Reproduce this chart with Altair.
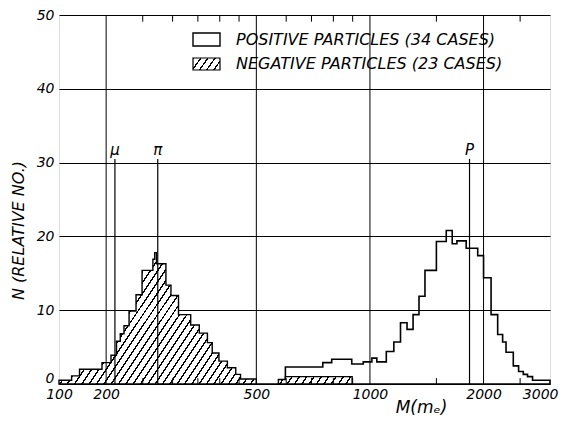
import altair as alt
import pandas as pd

# ---------------- data ----------------
# negative particles (hatched) : bin left edges in m_e, last value closes the last bin
neg_edges = [150, 162, 170, 195, 206, 213, 218, 223, 230, 240,
             249, 266, 269, 272, 288, 297, 311, 335, 353, 371,
             382, 398, 419, 441, 454, 500, 572, 597, 897]
neg_counts = [0.5, 1.1, 2.0, 2.9, 3.9, 5.8, 6.8, 7.9, 9.9, 12.1,
              15.4, 16.9, 17.8, 16.3, 13.4, 12.0, 9.4, 8.0, 6.9, 5.6,
              4.2, 3.1, 2.2, 1.3, 0.67, 0.0, 0.6, 1.0]

# positive particles (open outline)
pos_edges = [597, 750, 792, 895, 960, 1012, 1043, 1105, 1157, 1205,
             1254, 1301, 1349, 1399, 1500, 1593, 1652, 1700, 1799, 1930,
             2000, 2094, 2180, 2247, 2294, 2398, 2477, 2549, 2615, 2697, 3000]
pos_counts = [2.3, 2.9, 3.35, 2.7, 3.0, 3.5, 3.0, 4.4, 5.7, 8.3,
              7.4, 9.4, 11.9, 15.4, 19.3, 20.8, 19.0, 19.4, 18.4, 17.4,
              14.4, 9.4, 6.7, 5.7, 4.3, 2.45, 1.7, 1.3, 1.0, 0.5]

# reference masses
marker_names = ["\u03bc", "\u03c0", "P"]
marker_mass = [211, 274, 1836]

grid_x = [200, 500, 1000, 2000]
minor_x = [250, 300, 350, 400, 450, 600, 700, 800, 900, 1500, 2500]
x_ticks = [150, 200, 500, 1000, 2000, 3000]
y_ticks = [0, 10, 20, 30, 40, 50]

legend_labels = ["POSITIVE PARTICLES (34 CASES)", "NEGATIVE PARTICLES (23 CASES)"]

# ---------------- tables ----------------
neg_df = pd.DataFrame({"m": neg_edges, "n": neg_counts + [neg_counts[-1]]})
pos_df = pd.DataFrame({"m": pos_edges, "n": pos_counts + [pos_counts[-1]]})
mk_df = pd.DataFrame({"name": marker_names, "m": marker_mass})
grid_df = pd.DataFrame({"m": grid_x})
minor_df = pd.DataFrame({"m": minor_x})

FONT = "DejaVu Sans"


def hatch(n, ax, ay, frac=0.22):
    stops = []
    for i in range(n):
        a = i / n
        b = (i + frac) / n
        c = (i + 1) / n
        stops += [
            alt.GradientStop(offset=a, color="black"),
            alt.GradientStop(offset=b, color="black"),
            alt.GradientStop(offset=b, color="white"),
            alt.GradientStop(offset=c, color="white"),
        ]
    return alt.LinearGradient(gradient="linear", stops=stops, x1=0, y1=0, x2=ax, y2=ay)


xscale = alt.Scale(type="log", domain=[150, 3000], nice=False)
yscale = alt.Scale(domain=[0, 50], nice=False)

xaxis = alt.Axis(
    values=x_ticks, format="d",
    labelExpr="datum.value < 160 ? '100' : datum.label",
    grid=False, ticks=False, domain=False,
    labelFont=FONT, labelFontStyle="italic", labelFontSize=14, labelColor="black",
    labelPadding=3, labelFlush=False,
    labelAlign=alt.condition("datum.value >= 3000", alt.value("right"), alt.value("center")),
    labelOffset=alt.condition("datum.value >= 3000", alt.value(8), alt.value(0)),
    title="M(m\u2091)", titleFont=FONT, titleFontStyle="italic", titleFontWeight="normal",
    titleFontSize=17, titleColor="black", titleX=362, titleY=15, titleAlign="center",
    titleBaseline="top",
)
yaxis = alt.Axis(
    values=y_ticks, grid=True, gridColor="black", gridWidth=1, gridOpacity=1,
    ticks=False, domain=False,
    labelFont=FONT, labelFontStyle="italic", labelFontSize=14, labelColor="black",
    labelPadding=5,
    labelBaseline=alt.condition("datum.value == 0", alt.value("alphabetic"), alt.value("middle")),
    labelOffset=alt.condition("datum.value == 0", alt.value(-2), alt.value(0)),
    title="N (RELATIVE NO.)", titleFont=FONT, titleFontStyle="italic", titleFontWeight="normal",
    titleFontSize=16, titleColor="black", titleX=-41, titleY=215, titleAngle=270,
    titleAlign="center", titleBaseline="middle",
)

base_pos = alt.Chart(pos_df).mark_area(
    interpolate="step-after", fillOpacity=0, stroke="black", strokeWidth=1.6
).encode(
    x=alt.X("m:Q", scale=xscale, axis=xaxis),
    y=alt.Y("n:Q", scale=yscale, axis=yaxis),
)

neg_area = alt.Chart(neg_df).mark_area(
    interpolate="step-after", fill=hatch(52, 1.193, 0.358), stroke="black", strokeWidth=1.4
).encode(
    x=alt.X("m:Q", scale=xscale),
    y=alt.Y("n:Q", scale=yscale),
)

grid_rules = alt.Chart(grid_df).mark_rule(color="black", strokeWidth=1).encode(
    x=alt.X("m:Q", scale=xscale), y=alt.datum(0), y2=alt.datum(50)
)

top_ticks = alt.Chart(minor_df).mark_rule(color="black", strokeWidth=1).encode(
    x=alt.X("m:Q", scale=xscale), y=alt.datum(50), y2=alt.datum(49.1)
)
bot_ticks = alt.Chart(minor_df).mark_rule(color="black", strokeWidth=1).encode(
    x=alt.X("m:Q", scale=xscale), y=alt.datum(0), y2=alt.datum(0.8)
)

mk_rules = alt.Chart(mk_df).mark_rule(color="black", strokeWidth=1.2).encode(
    x=alt.X("m:Q", scale=xscale), y=alt.datum(0), y2=alt.datum(30.5)
)
mk_text = alt.Chart(mk_df).mark_text(
    font=FONT, fontStyle="italic", fontSize=15, baseline="bottom", align="center", dy=-1
).encode(
    x=alt.X("m:Q", scale=xscale), y=alt.datum(30.5), text="name:N"
)

one = pd.DataFrame({"k": [0]})
leg_open = alt.Chart(one).mark_rect(fill="white", stroke="black", strokeWidth=1.4).encode(
    x=alt.value(134), x2=alt.value(161), y=alt.value(18), y2=alt.value(31)
)
leg_hatch = alt.Chart(one).mark_rect(fill=hatch(5, 1.197, 0.383), stroke="black", strokeWidth=1.2).encode(
    x=alt.value(134), x2=alt.value(161), y=alt.value(43), y2=alt.value(55)
)
leg_t1 = alt.Chart(one).mark_text(
    text=legend_labels[0], font=FONT, fontStyle="italic", fontSize=16, align="left", baseline="middle"
).encode(x=alt.value(177), y=alt.value(25))
leg_t2 = alt.Chart(one).mark_text(
    text=legend_labels[1], font=FONT, fontStyle="italic", fontSize=16, align="left", baseline="middle"
).encode(x=alt.value(177), y=alt.value(49))

chart = alt.layer(
    base_pos, neg_area, grid_rules, top_ticks, bot_ticks, mk_rules, mk_text,
    leg_open, leg_hatch, leg_t1, leg_t2
).properties(
    width=491, height=369,
    autosize=alt.AutoSizeParams(type="none"),
    padding={"left": 51, "top": 7, "right": 9, "bottom": 34},
).configure_view(
    stroke="black", strokeWidth=2.2
).configure(background="white")

chart.save("out.html", embed_options={"renderer": "svg", "actions": False})
